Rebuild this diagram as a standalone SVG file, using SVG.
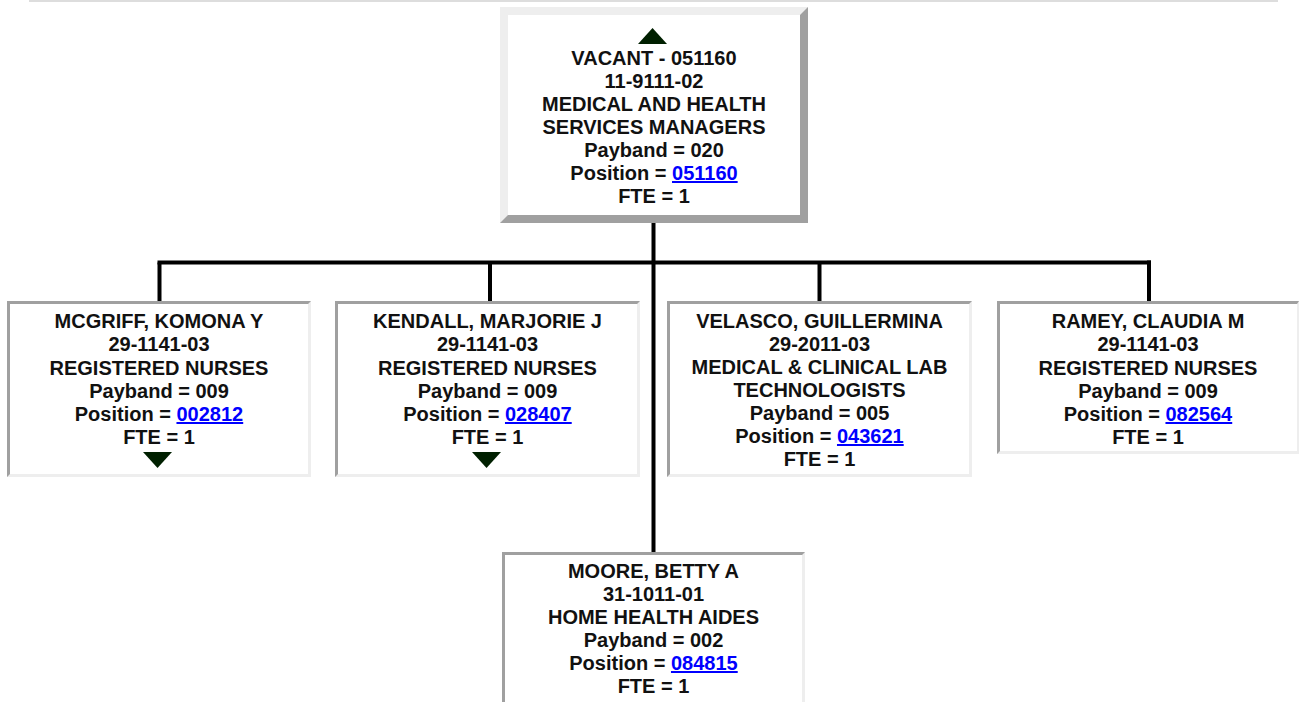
<svg xmlns="http://www.w3.org/2000/svg" width="1299" height="702" viewBox="0 0 1299 702">
<style>
.t{font-family:"Liberation Sans",Arial,sans-serif;font-weight:bold;font-size:20px;fill:#111;text-anchor:middle}
.lk{fill:#0000ff;text-decoration:underline}
.dk{fill:#a0a0a0}
.lt{fill:#eeeeee}
.wh{fill:#ffffff}
.tri{fill:#002000}
.cn{stroke:#000;stroke-width:4;fill:none}
</style>
<rect x="0" y="0" width="1299" height="702" fill="#fff"/>
<rect x="29" y="0" width="1249" height="2" fill="#dddddd"/>
<g id="connectors">
<line class="cn" x1="653.5" y1="223" x2="653.5" y2="552"/>
<line class="cn" x1="157.5" y1="262.5" x2="1151" y2="262.5"/>
<line class="cn" x1="159.5" y1="262.5" x2="159.5" y2="301"/>
<line class="cn" x1="490" y1="262.5" x2="490" y2="301"/>
<line class="cn" x1="819.5" y1="262.5" x2="819.5" y2="301"/>
<line class="cn" x1="1149" y1="260.5" x2="1149" y2="301"/>
</g>
<g id="node-vacant">
<rect class="dk" x="500" y="7" width="308" height="216"/>
<polygon class="lt" points="500,7 808,7 800,15 508,15 508,215 500,223"/>
<rect class="wh" x="508" y="15" width="292" height="200"/>
<polygon class="tri" points="638,44 667,44 652.5,28"/>
<text class="t" x="654" y="65">VACANT - 051160</text>
<text class="t" x="654" y="88">11-9111-02</text>
<text class="t" x="654" y="111">MEDICAL AND HEALTH</text>
<text class="t" x="654" y="134">SERVICES MANAGERS</text>
<text class="t" x="654" y="157">Payband = 020</text>
<text class="t" x="654" y="180">Position = <tspan class="lk">051160</tspan></text>
<text class="t" x="654" y="203">FTE = 1</text>
</g>
<g id="node-mcgriff">
<rect class="lt" x="7" y="301" width="304" height="176"/>
<polygon class="dk" points="7,301 311,301 308,304 10,304 10,474 7,477"/>
<rect class="wh" x="10" y="304" width="298" height="170"/>
<text class="t" x="159" y="328">MCGRIFF, KOMONA Y</text>
<text class="t" x="159" y="351">29-1141-03</text>
<text class="t" x="159" y="375">REGISTERED NURSES</text>
<text class="t" x="159" y="398">Payband = 009</text>
<text class="t" x="159" y="421">Position = <tspan class="lk">002812</tspan></text>
<text class="t" x="159" y="444">FTE = 1</text>
<polygon class="tri" points="143,452 172,452 157.5,468"/>
</g>
<g id="node-kendall">
<rect class="lt" x="335" y="301" width="305" height="176"/>
<polygon class="dk" points="335,301 640,301 637,304 338,304 338,474 335,477"/>
<rect class="wh" x="338" y="304" width="299" height="170"/>
<text class="t" x="487.5" y="328">KENDALL, MARJORIE J</text>
<text class="t" x="487.5" y="351">29-1141-03</text>
<text class="t" x="487.5" y="375">REGISTERED NURSES</text>
<text class="t" x="487.5" y="398">Payband = 009</text>
<text class="t" x="487.5" y="421">Position = <tspan class="lk">028407</tspan></text>
<text class="t" x="487.5" y="444">FTE = 1</text>
<polygon class="tri" points="472,452 501,452 486.5,468"/>
</g>
<g id="node-velasco">
<rect class="lt" x="667" y="301" width="305" height="176"/>
<polygon class="dk" points="667,301 972,301 969,304 670,304 670,474 667,477"/>
<rect class="wh" x="670" y="304" width="299" height="170"/>
<text class="t" x="819.5" y="328">VELASCO, GUILLERMINA</text>
<text class="t" x="819.5" y="351">29-2011-03</text>
<text class="t" x="819.5" y="374">MEDICAL &amp; CLINICAL LAB</text>
<text class="t" x="819.5" y="397">TECHNOLOGISTS</text>
<text class="t" x="819.5" y="420">Payband = 005</text>
<text class="t" x="819.5" y="443">Position = <tspan class="lk">043621</tspan></text>
<text class="t" x="819.5" y="466">FTE = 1</text>
</g>
<g id="node-ramey">
<rect class="lt" x="997" y="301" width="302" height="153"/>
<polygon class="dk" points="997,301 1299,301 1297,304 1000,304 1000,451 997,454"/>
<rect class="wh" x="1000" y="304" width="297" height="147"/>
<text class="t" x="1148" y="328">RAMEY, CLAUDIA M</text>
<text class="t" x="1148" y="351">29-1141-03</text>
<text class="t" x="1148" y="375">REGISTERED NURSES</text>
<text class="t" x="1148" y="398">Payband = 009</text>
<text class="t" x="1148" y="421">Position = <tspan class="lk">082564</tspan></text>
<text class="t" x="1148" y="444">FTE = 1</text>
</g>
<g id="node-moore">
<rect class="lt" x="502" y="552" width="303" height="160"/>
<polygon class="dk" points="502,552 805,552 802,555 505,555 505,712 502,712"/>
<rect class="wh" x="505" y="555" width="297" height="157"/>
<text class="t" x="653.5" y="578">MOORE, BETTY A</text>
<text class="t" x="653.5" y="601">31-1011-01</text>
<text class="t" x="653.5" y="624">HOME HEALTH AIDES</text>
<text class="t" x="653.5" y="647">Payband = 002</text>
<text class="t" x="653.5" y="670">Position = <tspan class="lk">084815</tspan></text>
<text class="t" x="653.5" y="693">FTE = 1</text>
</g>
</svg>
